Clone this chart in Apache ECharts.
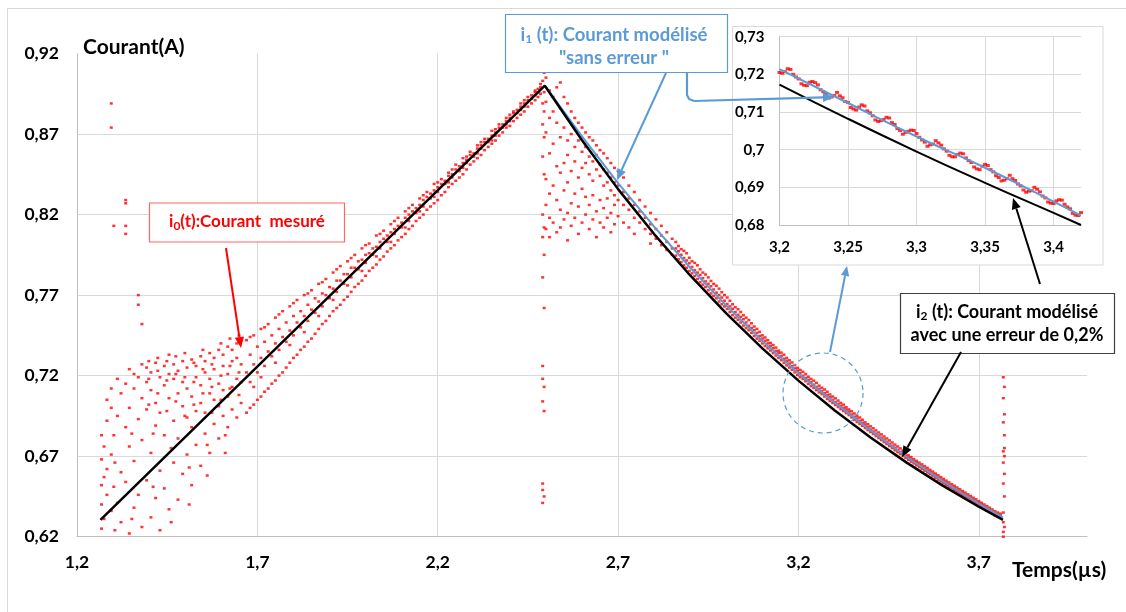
<!DOCTYPE html>
<html><head><meta charset="utf-8">
<script src="https://cdn.jsdelivr.net/npm/echarts@6/dist/echarts.min.js"></script>
<style>html,body{margin:0;padding:0;background:#fff}#c{width:1126px;height:612px}</style>
</head><body><div id="c"></div>
<script>
// ---------- tick labels ----------
const mainXTicks = [1.2, 1.7, 2.2, 2.7, 3.2, 3.7];
const mainYTicks = [0.62, 0.67, 0.72, 0.77, 0.82, 0.87, 0.92];
const zoomXTicks = [3.2, 3.25, 3.3, 3.35, 3.4];
const zoomYTicks = [0.68, 0.69, 0.7, 0.71, 0.72, 0.73];

// ---------- model i2(t) (black, error 0.2%) ----------
const i2Time = [1.265, 2.497, 2.6, 2.7, 2.8, 2.9, 3.0, 3.1, 3.2, 3.3, 3.4, 3.5, 3.6, 3.7, 3.767];
const i2Value = [0.6304, 0.900, 0.8661, 0.8358, 0.8079, 0.7822, 0.7586, 0.7369, 0.7169, 0.6985, 0.6816, 0.6660, 0.6517, 0.6386, 0.6304];

// ---------- model i1(t) (blue, without error) ----------
const i1Time = [2.497, 2.6, 2.7, 2.8, 2.9, 3.0, 3.1, 3.2, 3.3, 3.4, 3.5, 3.6, 3.7, 3.767];
const i1Value = [0.900, 0.8685, 0.8395, 0.8125, 0.7870, 0.7635, 0.7415, 0.7214, 0.7034, 0.6860, 0.6695, 0.6545, 0.6405, 0.6320];

// ---------- measured i0(t): columns [t, i, i, ...] ----------
const riseColumns = [
 [1.268,0.625,0.640,0.652,0.668,0.683],[1.275,0.631,0.657,0.676],[1.283,0.646,0.662,0.692,0.705],
 [1.295,0.636,0.671,0.700,0.712,0.874,0.889],[1.302,0.651,0.683,0.813],[1.305,0.624,0.666],[1.312,0.641,0.695,0.718],
 [1.322,0.629,0.660,0.709],[1.335,0.654,0.688,0.715,0.808,0.813,0.827,0.829],[1.345,0.622,0.676,0.700,0.724],
 [1.352,0.631,0.684],[1.358,0.638,0.667,0.712,0.721],[1.370,0.646,0.693,0.719,0.764,0.770],[1.380,0.626,0.680,0.706,0.727,0.752],
 [1.393,0.655,0.699,0.716,0.725],[1.399,0.702,0.718,0.729],[1.405,0.632,0.672,0.711,0.722],[1.411,0.651,0.684],
 [1.418,0.644,0.689,0.703,0.728],[1.424,0.709,0.723,0.731],[1.430,0.624,0.661,0.697,0.719],[1.442,0.650,0.683,0.714,0.726],
 [1.449,0.698,0.717,0.729],[1.455,0.637,0.706,0.721,0.733],[1.461,0.629,0.675],[1.468,0.666,0.692,0.718,0.727],
 [1.474,0.704,0.721,0.732],[1.480,0.643,0.681,0.709,0.723],[1.493,0.659,0.701,0.716,0.729],[1.499,0.695,0.719,0.734],
 [1.505,0.671,0.694,0.712,0.725],[1.511,0.640,0.663],[1.518,0.652,0.688,0.707,0.730],[1.524,0.702,0.716,0.728],
 [1.530,0.677,0.698,0.719,0.726],[1.543,0.664,0.703,0.714,0.732],[1.549,0.709,0.724,0.736],[1.555,0.684,0.697,0.722,0.729],
 [1.561,0.658,0.677],[1.568,0.672,0.709,0.718,0.734],[1.574,0.697,0.713,0.727],[1.580,0.690,0.705,0.724,0.731],
 [1.593,0.681,0.701,0.715,0.736],[1.599,0.705,0.720,0.740],[1.605,0.695,0.711,0.726,0.733],[1.611,0.672,0.683],
 [1.618,0.688,0.707,0.721,0.738],[1.624,0.712,0.726,0.743],[1.630,0.699,0.713,0.729,0.736],[1.643,0.694,0.718,0.731,0.740],
 [1.649,0.708,0.722,0.745],[1.655,0.703,0.716,0.727,0.742],
 [1.67,0.697,0.722,0.742],[1.68,0.700,0.716,0.733,0.744],[1.69,0.702,0.713,0.727,0.745],[1.70,0.705,0.722,0.738],
 [1.71,0.707,0.719,0.731,0.749],[1.72,0.710,0.726,0.741,0.750],[1.73,0.712,0.735,0.752],[1.74,0.715,0.732,0.745],
 [1.75,0.717,0.728,0.740,0.756],[1.76,0.720,0.736,0.749,0.758],[1.77,0.722,0.744,0.760],[1.78,0.725,0.741,0.753],
 [1.79,0.728,0.739,0.748,0.763],[1.80,0.731,0.745,0.757,0.765],[1.81,0.733,0.753,0.767],[1.82,0.736,0.750,0.760],
 [1.83,0.738,0.747,0.757,0.770],[1.84,0.741,0.754,0.764,0.771],[1.85,0.743,0.761,0.773],[1.86,0.746,0.759,0.768],
 [1.87,0.749,0.757,0.766,0.777],[1.88,0.752,0.763,0.771,0.778],[1.89,0.754,0.770,0.780],[1.90,0.757,0.768,0.775],
 [1.91,0.760,0.767,0.774,0.784],[1.92,0.762,0.772,0.779,0.786],[1.93,0.764,0.779,0.788],[1.94,0.767,0.777,0.783],
 [1.95,0.769,0.776,0.783,0.791],[1.96,0.772,0.781,0.787,0.793],[1.97,0.775,0.787,0.795],[1.98,0.777,0.786,0.791],
 [1.99,0.779,0.785,0.792,0.799],[2.00,0.782,0.790,0.795,0.801],[2.01,0.785,0.796,0.802],[2.02,0.787,0.795,0.799],
 [2.03,0.789,0.794,0.800,0.807],[2.04,0.792,0.799,0.803,0.808],[2.05,0.794,0.805,0.810],[2.06,0.797,0.803,0.807],
 [2.07,0.799,0.803,0.809,0.814],[2.08,0.801,0.808,0.811,0.816],[2.09,0.804,0.813,0.818],[2.10,0.806,0.812,0.815],
 [2.11,0.808,0.812,0.818,0.822],[2.12,0.811,0.816,0.820,0.824],[2.13,0.813,0.822,0.826],[2.14,0.816,0.821,0.824],
 [2.15,0.818,0.822,0.826,0.830],[2.16,0.820,0.825,0.829,0.832],[2.17,0.823,0.831,0.834],[2.18,0.825,0.830,0.833],
 [2.19,0.827,0.831,0.835,0.839],[2.20,0.829,0.834,0.837,0.840],[2.21,0.832,0.839,0.842],[2.22,0.834,0.839,0.841],
 [2.23,0.837,0.840,0.844,0.846],[2.24,0.839,0.843,0.845,0.848],[2.25,0.841,0.848,0.851],[2.26,0.843,0.847,0.850],
 [2.27,0.845,0.849,0.852,0.855],[2.28,0.848,0.852,0.854,0.856],[2.29,0.851,0.857,0.859],[2.30,0.853,0.856,0.858],
 [2.31,0.855,0.858,0.861,0.863],[2.32,0.857,0.861,0.863,0.865],[2.33,0.860,0.865,0.867],[2.34,0.862,0.865,0.867],
 [2.35,0.864,0.866,0.869,0.872],[2.36,0.866,0.869,0.871,0.873],[2.37,0.869,0.874,0.876],[2.38,0.871,0.874,0.876],
 [2.39,0.874,0.876,0.878,0.880],[2.40,0.875,0.878,0.880,0.882],[2.41,0.878,0.883,0.884],[2.42,0.880,0.883,0.885],
 [2.43,0.882,0.885,0.887,0.889],[2.44,0.884,0.887,0.889,0.891],[2.45,0.887,0.891,0.893],[2.46,0.889,0.892,0.894],
 [2.47,0.891,0.894,0.896,0.897],[2.478,0.893,0.896,0.898],[2.485,0.895,0.899,0.901]
];
const spikeColumns = [
 [2.491,0.641,0.649,0.653,0.704,0.718,0.726,0.781,0.806,0.820,0.856,0.876,0.889,0.903,0.912],
 [2.495,0.645,0.698,0.713,0.762,0.795,0.812,0.845,0.868,0.884,0.896,0.908],
 [3.768,0.620,0.623,0.629,0.635,0.653,0.666,0.673,0.691,0.706,0.719],
 [3.771,0.626,0.645,0.659,0.670,0.675,0.683,0.696,0.713]
];
const cloudColumns = [
 [2.500,0.905,0.890,0.871,0.842,0.826,0.811],[2.510,0.897,0.880,0.858,0.833,0.818,0.806],
 [2.520,0.893,0.884,0.864,0.838,0.815],[2.530,0.899,0.877,0.850,0.829,0.809],
 [2.540,0.902,0.886,0.868,0.846,0.823,0.812],[2.550,0.893,0.874,0.852,0.835,0.817],
 [2.560,0.889,0.866,0.857,0.840,0.821,0.804],[2.570,0.884,0.870,0.847,0.827,0.813],
 [2.580,0.880,0.862,0.853,0.833,0.818],[2.590,0.877,0.866,0.843,0.825,0.808],
 [2.600,0.874,0.859,0.849,0.836,0.815],[2.610,0.871,0.862,0.852,0.831,0.820],
 [2.620,0.868,0.856,0.845,0.826,0.811],[2.630,0.866,0.853,0.841,0.832,0.817],
 [2.640,0.863,0.857,0.848,0.822,0.806],[2.650,0.860,0.851,0.844,0.829,0.815],
 [2.660,0.858,0.848,0.838,0.824,0.812],[2.670,0.855,0.846,0.840,0.830,0.818],
 [2.680,0.852,0.843,0.835,0.821,0.809],[2.690,0.849,0.840,0.832,0.826,0.814],
 [2.700,0.847,0.838,0.829,0.819],[2.715,0.843,0.834,0.826,0.815],[2.730,0.838,0.830,0.823,0.812],
 [2.745,0.834,0.826,0.818,0.808],[2.760,0.829,0.822,0.815],[2.775,0.825,0.818,0.811],
 [2.790,0.821,0.814,0.808,0.802],[2.805,0.817,0.811,0.805],[2.820,0.813,0.807,0.801],
 [2.835,0.809,0.803,0.798],[2.850,0.805,0.799,0.795]
];
const fallColumns = [
 [2.860,0.8030,0.7990,0.7945],[2.8675,0.8005,0.7972,0.7922],[2.875,0.7985,0.7950,0.7905],[2.8825,0.7975,0.7930,0.7885],
 [2.890,0.7960,0.7915,0.7870],[2.8975,0.7932,0.7898,0.7850],[2.905,0.7910,0.7875,0.7835],[2.9125,0.7900,0.7855,0.7818],
 [2.920,0.7885,0.7840,0.7800],[2.9275,0.7860,0.7825,0.7780],[2.935,0.7840,0.7805,0.7765],[2.9425,0.7828,0.7785,0.7750],
 [2.950,0.7810,0.7770,0.7730],[2.9575,0.7788,0.7755,0.7710],[2.965,0.7770,0.7735,0.7695],[2.9725,0.7758,0.7715,0.7680],
 [2.980,0.7740,0.7700,0.7660],[2.9875,0.7718,0.7685,0.7643],[2.995,0.7700,0.7665,0.7630],[3.0025,0.7685,0.7645,0.7614],
 [3.010,0.7665,0.7630,0.7595],[3.0175,0.7643,0.7615,0.7576],[3.025,0.7625,0.7595,0.7560],[3.0325,0.7612,0.7578,0.7547],
 [3.040,0.7595,0.7565,0.7530],[3.0475,0.7575,0.7550,0.7511],[3.055,0.7560,0.7530,0.7495],[3.0625,0.7545,0.7510,0.7482],
 [3.070,0.7525,0.7495,0.7465],[3.0775,0.7505,0.7482,0.7446],[3.085,0.7490,0.7465,0.7430],[3.0925,0.7472,0.7446,0.7417],
 [3.100,0.7450,0.7430,0.7400],[3.1075,0.7437,0.7416,0.7384],[3.115,0.7420,0.7400,0.7370],[3.1225,0.7403,0.7384,0.7356],
 [3.130,0.7390,0.7370,0.7340],[3.1375,0.7374,0.7353,0.7325],[3.145,0.7355,0.7340,0.7310],[3.1525,0.7343,0.7322,0.7296],
 [3.160,0.7330,0.7305,0.7280],[3.1675,0.7310,0.7292,0.7264],[3.175,0.7295,0.7275,0.7250],[3.1825,0.7282,0.7259,0.7236],
 [3.190,0.7265,0.7245,0.7220],[3.1975,0.7248,0.7231,0.7204],[3.205,0.7235,0.7215,0.7190],[3.2125,0.7224,0.7199,0.7179],
 [3.220,0.7210,0.7185,0.7165],[3.2275,0.7193,0.7174,0.7149],[3.235,0.7180,0.7160,0.7135],[3.2425,0.7169,0.7144,0.7124],
 [3.250,0.7155,0.7130,0.7110],[3.2575,0.7138,0.7119,0.7096],[3.265,0.7125,0.7105,0.7085],[3.2725,0.7114,0.7091,0.7071],
 [3.280,0.7100,0.7080,0.7055],[3.2875,0.7083,0.7066,0.7042],[3.295,0.7070,0.7050,0.7030],[3.3025,0.7059,0.7036,0.7018],
 [3.310,0.7045,0.7025,0.7005],[3.3175,0.7031,0.7013,0.6992],[3.325,0.7020,0.7000,0.6980],[3.3325,0.7004,0.6989,0.6967],
 [3.340,0.6990,0.6975,0.6955],[3.3475,0.6979,0.6959,0.6941],[3.355,0.6965,0.6945,0.6925],[3.3625,0.6951,0.6934,0.6912],
 [3.370,0.6940,0.6920,0.6900],[3.3775,0.6926,0.6907,0.6889],[3.385,0.6910,0.6895,0.6875],[3.3925,0.6898,0.6881,0.6862],
 [3.400,0.6885,0.6865,0.6850],[3.4075,0.6873,0.6853,0.6838],[3.415,0.6860,0.6840,0.6825],[3.4225,0.6847,0.6828,0.6812],
 [3.430,0.6835,0.6815,0.6800],[3.4375,0.6822,0.6804,0.6787],[3.445,0.6810,0.6790,0.6775],[3.4525,0.6798,0.6777,0.6763],
 [3.460,0.6785,0.6765,0.6750],[3.4675,0.6772,0.6753,0.6737],[3.475,0.6760,0.6740,0.6725],[3.4825,0.6748,0.6727,0.6713],
 [3.490,0.6735,0.6715,0.6700],[3.4975,0.6720,0.6703,0.6689],[3.505,0.6705,0.6690,0.6678],[3.5125,0.6694,0.6679,0.6666],
 [3.520,0.6682,0.6668,0.6655],[3.5275,0.6671,0.6657,0.6643],[3.535,0.6660,0.6645,0.6632],[3.5425,0.6649,0.6633,0.6621],
 [3.550,0.6638,0.6622,0.6610],[3.5575,0.6627,0.6611,0.6599],[3.565,0.6615,0.6600,0.6588],[3.5725,0.6604,0.6589,0.6576],
 [3.580,0.6592,0.6578,0.6565],[3.5875,0.6581,0.6566,0.6554],[3.595,0.6570,0.6555,0.6543],[3.6025,0.6559,0.6544,0.6531],
 [3.610,0.6548,0.6533,0.6520],[3.6175,0.6537,0.6522,0.6510],[3.625,0.6526,0.6512,0.6500],[3.6325,0.6516,0.6501,0.6489],
 [3.640,0.6505,0.6491,0.6478],[3.6475,0.6495,0.6480,0.6467],[3.655,0.6484,0.6470,0.6457],[3.6625,0.6474,0.6459,0.6446],
 [3.670,0.6463,0.6449,0.6436],[3.6775,0.6453,0.6438,0.6425],[3.685,0.6442,0.6428,0.6415],[3.6925,0.6432,0.6417,0.6405],
 [3.700,0.6421,0.6407,0.6395],[3.7075,0.6411,0.6397,0.6384],[3.715,0.6400,0.6387,0.6374],[3.7225,0.6390,0.6376,0.6363],
 [3.730,0.6380,0.6366,0.6353],[3.7375,0.6369,0.6356,0.6343],[3.745,0.6358,0.6346,0.6333],[3.7525,0.6350,0.6338,0.6325],
 [3.760,0.6343,0.6330,0.6318]
];

// ---------- zoom window (3.2 – 3.42 µs) ----------
const zoomModelTime = [3.2, 3.25, 3.3, 3.35, 3.4, 3.42];
const zoomI1 = [0.7214, 0.7124, 0.7035, 0.6952, 0.6862, 0.6825];
const zoomI2 = [0.7173, 0.7082, 0.6995, 0.6912, 0.6832, 0.6800];
const zoomMeasTime = [
 3.200,3.202,3.204,3.206,3.208,3.210,3.212,3.214,3.216,3.218,3.220,3.222,3.224,3.226,3.228,3.230,3.232,3.234,3.236,3.238,
 3.240,3.242,3.244,3.246,3.248,3.250,3.252,3.254,3.256,3.258,3.260,3.262,3.264,3.266,3.268,3.270,3.272,3.274,3.276,3.278,
 3.280,3.282,3.284,3.286,3.288,3.290,3.292,3.294,3.296,3.298,3.300,3.302,3.304,3.306,3.308,3.310,3.312,3.314,3.316,3.318,
 3.320,3.322,3.324,3.326,3.328,3.330,3.332,3.334,3.336,3.338,3.340,3.342,3.344,3.346,3.348,3.350,3.352,3.354,3.356,3.358,
 3.360,3.362,3.364,3.366,3.368,3.370,3.372,3.374,3.376,3.378,3.380,3.382,3.384,3.386,3.388,3.390,3.392,3.394,3.396,3.398,
 3.400,3.402,3.404,3.406,3.408,3.410,3.412,3.414,3.416,3.418,3.420];
const zoomMeasValue = [
 0.7205,0.7203,0.7207,0.7215,0.7213,0.7200,0.7193,0.7188,0.7175,0.7171,0.7170,0.7179,0.7181,0.7178,0.7172,0.7159,0.7154,0.7147,0.7137,0.7140,
 0.7144,0.7152,0.7143,0.7138,0.7128,0.7125,0.7112,0.7108,0.7105,0.7113,0.7119,0.7116,0.7103,0.7098,0.7090,0.7079,0.7075,0.7077,0.7080,0.7086,
 0.7084,0.7072,0.7067,0.7056,0.7051,0.7041,0.7046,0.7049,0.7052,0.7051,0.7043,0.7033,0.7026,0.7020,0.7009,0.7013,0.7015,0.7024,0.7018,0.7012,
 0.7002,0.6996,0.6985,0.6981,0.6981,0.6987,0.6991,0.6989,0.6978,0.6971,0.6966,0.6954,0.6949,0.6947,0.6956,0.6961,0.6958,0.6947,0.6941,0.6931,
 0.6926,0.6917,0.6919,0.6923,0.6932,0.6923,0.6918,0.6909,0.6904,0.6893,0.6887,0.6890,0.6891,0.6900,0.6895,0.6888,0.6877,0.6872,0.6861,0.6858,
 0.6857,0.6864,0.6867,0.6866,0.6855,0.6848,0.6843,0.6831,0.6826,0.6825,0.6833];

// ---------- build series data ----------
function fromColumns(cols){ const out=[]; cols.forEach(c=>{ for(let k=1;k<c.length;k++) out.push([c[0],c[k]]); }); return out; }
const zip = (a,b) => a.map((v,i)=>[v,b[i]]);
const measured = fromColumns(riseColumns).concat(fromColumns(spikeColumns), fromColumns(cloudColumns), fromColumns(fallColumns));

const FONT = 'Lato, "Open Sans", sans-serif';
const fmt = (ticks) => v => { const t = ticks.find(x => Math.abs(x - v) < 1e-6); return t === undefined ? '' : String(t).replace('.', ','); };
const RED = '#ff0000', BLUE = '#5b9bd5';

const labelStyle = (size) => ({ fontFamily: FONT, fontWeight: 'bold', fontSize: size, color: '#000' });

function arrow(x1,y1,x2,y2,color,w,head){
  const a=Math.atan2(y2-y1,x2-x1), L=head||10, W=L*0.42;
  const bx=x2-L*Math.cos(a), by=y2-L*Math.sin(a), px=-Math.sin(a)*W, py=Math.cos(a)*W;
  return [
    {type:'line', z:30, shape:{x1:x1,y1:y1,x2:bx,y2:by}, style:{stroke:color,lineWidth:w}},
    {type:'polygon', z:30, shape:{points:[[x2,y2],[bx+px,by+py],[bx-px,by-py]]}, style:{fill:color}}
  ];
}

const chart = echarts.init(document.getElementById('c'), null, {renderer:'canvas'});
const option = {
  backgroundColor: '#fff',
  animation: false,
  grid: [
    {left: 77, top: 53.5, right: 39, bottom: 75.3, outerBoundsMode: 'none'},
    {left: 779.5, top: 36.7, width: 301.5, height: 188.3, outerBoundsMode: 'none', z: 15}
  ],
  xAxis: [
    {gridIndex:0, type:'value', min:1.2, max:4.0, interval:0.5,
     axisLine:{show:true, lineStyle:{color:'#bfbfbf', width:1}}, axisTick:{show:false},
     splitLine:{show:true, showMaxLine:false, lineStyle:{color:'#d9d9d9', width:1}},
     axisLabel:Object.assign(labelStyle(17.5), {margin:17, showMaxLabel:false, formatter: fmt(mainXTicks)})},
    {gridIndex:1, type:'value', min:3.2, max:3.42, interval:0.05, z:15,
     axisLine:{show:true, lineStyle:{color:'#bfbfbf', width:1}}, axisTick:{show:false},
     splitLine:{show:true, showMaxLine:false, lineStyle:{color:'#d9d9d9', width:1}},
     axisLabel:Object.assign(labelStyle(15), {margin:15, showMaxLabel:false, formatter: fmt(zoomXTicks)})}
  ],
  yAxis: [
    {gridIndex:0, type:'value', min:0.62, max:0.92, interval:0.05,
     axisLine:{show:true, lineStyle:{color:'#bfbfbf', width:1}}, axisTick:{show:false},
     splitLine:{show:true, showMaxLine:false, lineStyle:{color:'#d9d9d9', width:1}},
     axisLabel:Object.assign(labelStyle(17.5), {margin:18, formatter: fmt(mainYTicks)})},
    {gridIndex:1, type:'value', min:0.68, max:0.73, interval:0.01, z:15,
     axisLine:{show:true, lineStyle:{color:'#bfbfbf', width:1}}, axisTick:{show:false},
     splitLine:{show:true, lineStyle:{color:'#d9d9d9', width:1}},
     axisLabel:Object.assign(labelStyle(15), {margin:15, formatter: fmt(zoomYTicks)})}
  ],
  series: [
    {name:'i0 mesuré', type:'scatter', xAxisIndex:0, yAxisIndex:0, z:3, data: measured,
     symbol:'rect', symbolSize:[3,2.5], itemStyle:{color:RED}, silent:true, large:false},
    {name:'i1', type:'line', xAxisIndex:0, yAxisIndex:0, z:4, data: zip(i1Time, i1Value),
     showSymbol:false, lineStyle:{color:BLUE, width:2}, silent:true},
    {name:'i2', type:'line', xAxisIndex:0, yAxisIndex:0, z:5, data: zip(i2Time, i2Value),
     showSymbol:false, lineStyle:{color:'#000', width:2.5}, silent:true},
    {name:'zoom i0', type:'scatter', xAxisIndex:1, yAxisIndex:1, z:20, data: zip(zoomMeasTime, zoomMeasValue),
     symbol:'rect', symbolSize:[4,3], itemStyle:{color:RED}, silent:true},
    {name:'zoom i1', type:'line', xAxisIndex:1, yAxisIndex:1, z:21, data: zip(zoomModelTime, zoomI1),
     showSymbol:false, smooth:true, lineStyle:{color:BLUE, width:2}, silent:true},
    {name:'zoom i2', type:'line', xAxisIndex:1, yAxisIndex:1, z:21, data: zip(zoomModelTime, zoomI2),
     showSymbol:false, smooth:true, lineStyle:{color:'#000', width:2}, silent:true}
  ],
  graphic: [
    {type:'line', z:1, shape:{x1:7.5,y1:8.5,x2:7.5,y2:612}, style:{stroke:'#d9d9d9',lineWidth:1}},
    {type:'line', z:1, shape:{x1:7.5,y1:8.5,x2:1126,y2:8.5}, style:{stroke:'#d9d9d9',lineWidth:1}},
    {type:'rect', z:10, shape:{x:732.5,y:26.5,width:370.5,height:238.5}, style:{fill:'#fff', stroke:'#d9d9d9', lineWidth:1}},
    {type:'text', z:30, style:{text:'Courant(A)', x:83, y:47, verticalAlign:'middle', align:'left', font:'bold 21px '+FONT, fill:'#000'}},
    {type:'text', z:30, style:{text:'Temps(µs)', x:1012, y:570, verticalAlign:'middle', align:'left', font:'bold 21px '+FONT, fill:'#000'}},
    // i0 label
    {type:'rect', z:30, shape:{x:149.5,y:203,width:195,height:39}, style:{fill:'#fff', stroke:'rgba(255,0,0,0.6)', lineWidth:1.2}},
    {type:'text', z:31, style:{text:'{a|i}{s|0}{a|(t):Courant  mesuré}', x:247, y:222, align:'center', verticalAlign:'middle',
      rich:{a:{fontFamily:FONT, fontWeight:'bold', fontSize:17, fill:RED, color:RED}, s:{fontFamily:FONT, fontWeight:'bold', fontSize:12, fill:RED, color:RED, padding:[9,0,0,0]}}}},
    // i1 label
    {type:'rect', z:30, shape:{x:505.5,y:14.5,width:222,height:58}, style:{fill:'#fff', stroke:BLUE, lineWidth:1.2}},
    {type:'text', z:31, style:{text:'{a|i}{s|1}{a| (t): Courant modélisé}', x:614, y:35, align:'center', verticalAlign:'middle',
      rich:{a:{fontFamily:FONT, fontWeight:'bold', fontSize:18.5, fill:BLUE, color:BLUE}, s:{fontFamily:FONT, fontWeight:'bold', fontSize:12, fill:BLUE, color:BLUE, padding:[9,0,0,0]}}}},
    {type:'text', z:31, style:{text:'"sans erreur "', x:614, y:58, align:'center', verticalAlign:'middle', font:'bold 18.5px '+FONT, fill:BLUE}},
    // i2 label
    {type:'rect', z:30, shape:{x:900.5,y:293.5,width:214,height:60}, style:{fill:'#fff', stroke:'#404040', lineWidth:1.2}},
    {type:'text', z:31, style:{text:'{a|i}{s|2}{a| (t): Courant modélisé}', x:1007, y:312, align:'center', verticalAlign:'middle',
      rich:{a:{fontFamily:FONT, fontWeight:'bold', fontSize:18, fill:'#000', color:'#000'}, s:{fontFamily:FONT, fontWeight:'bold', fontSize:12, fill:'#000', color:'#000', padding:[9,0,0,0]}}}},
    {type:'text', z:31, style:{text:'avec une erreur de 0,2%', x:1007, y:335, align:'center', verticalAlign:'middle', font:'bold 18px '+FONT, fill:'#000'}},
    // dashed circle
    {type:'circle', z:30, shape:{cx:823, cy:393, r:40}, style:{fill:'none', stroke:BLUE, lineWidth:1.2, lineDash:[5,4]}},
    {type:'polyline', z:30, shape:{points:[[687,73],[687,95],[689,99],[694,101]]}, style:{stroke:BLUE, lineWidth:2.2, fill:'none'}},
  ].concat(
    arrow(226,248,241,348,RED,2,11),
    arrow(666,73,617,180,BLUE,2,11),
    arrow(694,101,834,97,BLUE,2.2,11),
    arrow(830,352,847,266,BLUE,2,10),
    arrow(961,352,902,457,'#000',2,11),
    arrow(1040,284,1013,198,'#000',2,11)
  )
};
chart.setOption(option);
</script></body></html>
